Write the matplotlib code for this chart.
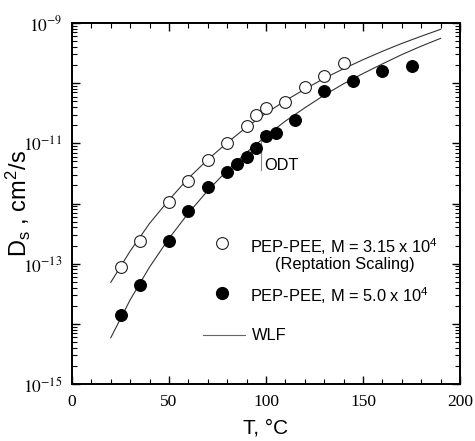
import numpy as np
import matplotlib
matplotlib.use("Agg")
import matplotlib.pyplot as plt
from matplotlib.ticker import LogLocator, FixedLocator, MultipleLocator, FuncFormatter

# ---------------- data ----------------
T_open = [25, 35, 50, 60, 70, 80, 90, 95, 100, 110, 120, 130, 140]
logD_open = [-13.05, -12.63, -11.98, -11.62, -11.28, -11.00, -10.72, -10.53,
             -10.42, -10.32, -10.06, -9.88, -9.67]

T_fill = [25, 35, 50, 60, 70, 80, 85, 90, 95, 100, 105, 115, 130, 145, 160, 175]
logD_fill = [-13.855, -13.355, -12.62, -12.13, -11.73, -11.48, -11.34, -11.22,
             -11.08, -10.88, -10.82, -10.605, -10.13, -9.96, -9.795, -9.71]

T_wlf = [20, 30, 40, 50, 60, 70, 80, 90, 100, 110, 120, 130, 140, 150, 160, 170, 180, 190]
logD_wlf_upper = [-13.31, -12.79, -12.33, -11.94, -11.58, -11.27, -10.99, -10.73, -10.50,
                  -10.29, -10.10, -9.92, -9.76, -9.61, -9.47, -9.34, -9.22, -9.105]
logD_wlf_lower = [-14.23, -13.60, -13.055, -12.58, -12.16, -11.785, -11.45, -11.15, -10.88,
                  -10.63, -10.41, -10.20, -10.01, -9.84, -9.68, -9.525, -9.385, -9.255]

T_odt = 97.5
logD_odt = [-10.81, -11.45]

x_ticks = [0, 50, 100, 150, 200]
y_label_exps = [-9, -11, -13, -15]

# ---------------- style ----------------
plt.rcParams['mathtext.fontset'] = 'custom'
plt.rcParams['mathtext.rm'] = 'Liberation Sans'
plt.rcParams['mathtext.sf'] = 'Liberation Sans'
plt.rcParams['mathtext.it'] = 'Liberation Sans:italic'
plt.rcParams['font.family'] = ['Liberation Sans', 'DejaVu Sans']

fig = plt.figure(figsize=(4.75, 4.41), dpi=100)
ax = fig.add_axes([72/475, 1-384/441, 388/475, 361/441])

ax.set_yscale('log')
ax.set_xlim(0, 200)
ax.set_ylim(1e-15, 1e-9)

D_open = 10**np.array(logD_open)
D_fill = 10**np.array(logD_fill)

ax.plot(T_wlf, 10**np.array(logD_wlf_upper), color='#333333', lw=0.8)
ax.plot(T_wlf, 10**np.array(logD_wlf_lower), color='#333333', lw=0.8)

MS = 8.5
ax.plot(T_open, D_open, 'o', mfc='white', mec='#222222', mew=0.8, ms=MS, zorder=3)
ax.plot(T_fill, D_fill, 'o', mfc='black', mec='black', mew=0.8, ms=MS, zorder=3)

# ODT marker
ax.plot([T_odt, T_odt], 10**np.array(logD_odt), color='#888888', lw=0.8)
ax.text(T_odt + 1.5, 10**-11.37, 'ODT', fontsize=11.8, va='center', ha='left')

# ticks
ax.xaxis.set_major_locator(FixedLocator(x_ticks))
ax.xaxis.set_minor_locator(MultipleLocator(10))
ax.yaxis.set_major_locator(LogLocator(base=10, numticks=20))
ax.yaxis.set_minor_locator(LogLocator(base=10, subs=np.arange(2, 10), numticks=20))

def yfmt(v, pos):
    e = int(round(np.log10(v)))
    if e in y_label_exps:
        return r'$\mathrm{10^{%d}}$' % e
    return ''
ax.yaxis.set_major_formatter(FuncFormatter(yfmt))
ax.xaxis.set_major_formatter(FuncFormatter(lambda v, p: '%d' % v))

ax.tick_params(which='both', direction='in', top=True, right=True, labelsize=12.5)
ax.tick_params(which='major', length=6, width=1.0, pad=7)
ax.tick_params(which='minor', length=3.5, width=0.8)
for s in ax.spines.values():
    s.set_linewidth(1.4)

fig.canvas.draw()
for lab in ax.get_xticklabels():
    lab.set_fontfamily('Liberation Serif')
for lab in ax.get_yticklabels():
    lab.set_math_fontfamily('stix')

ax.set_xlabel('T, °C', fontsize=15)
ax.xaxis.set_label_coords(0.5, -0.095)
ax.set_ylabel(r'D$_\mathsf{s}$ , cm$^\mathsf{2}$/s', fontsize=17)
ax.yaxis.set_label_coords(-0.1, 0.5)

# legend drawn manually
tr = ax.transAxes
def axc(px, py):
    return ((px - 72) / 388, (384 - py) / 361)

x0, y0 = axc(221.7, 243.3)
ax.plot([x0], [y0], 'o', mfc='white', mec='#222222', mew=0.8, ms=MS, transform=tr, clip_on=False)
x0, y0 = axc(221.7, 293.3)
ax.plot([x0], [y0], 'o', mfc='black', mec='black', ms=MS, transform=tr, clip_on=False)
xa, ya = axc(203.3, 335)
xb, _ = axc(245, 335)
ax.plot([xa, xb], [ya, ya], color='#666666', lw=0.8, transform=tr)

xt, yt = axc(249.5, 246.5)
ax.text(xt, yt, r'PEP-PEE, M = 3.15 x $\mathsf{10^4}$', transform=tr, fontsize=11.8, va='center', ha='left')
xt, yt = axc(345, 265)
ax.text(xt, yt, '(Reptation Scaling)', transform=tr, fontsize=11.8, va='center', ha='center')
xt, yt = axc(249.5, 296)
ax.text(xt, yt, r'PEP-PEE, M = 5.0 x $\mathsf{10^4}$', transform=tr, fontsize=11.8, va='center', ha='left')
xt, yt = axc(251.7, 335)
ax.text(xt, yt, 'WLF', transform=tr, fontsize=11.8, va='center', ha='left')

fig.savefig('out.png', dpi=100)
